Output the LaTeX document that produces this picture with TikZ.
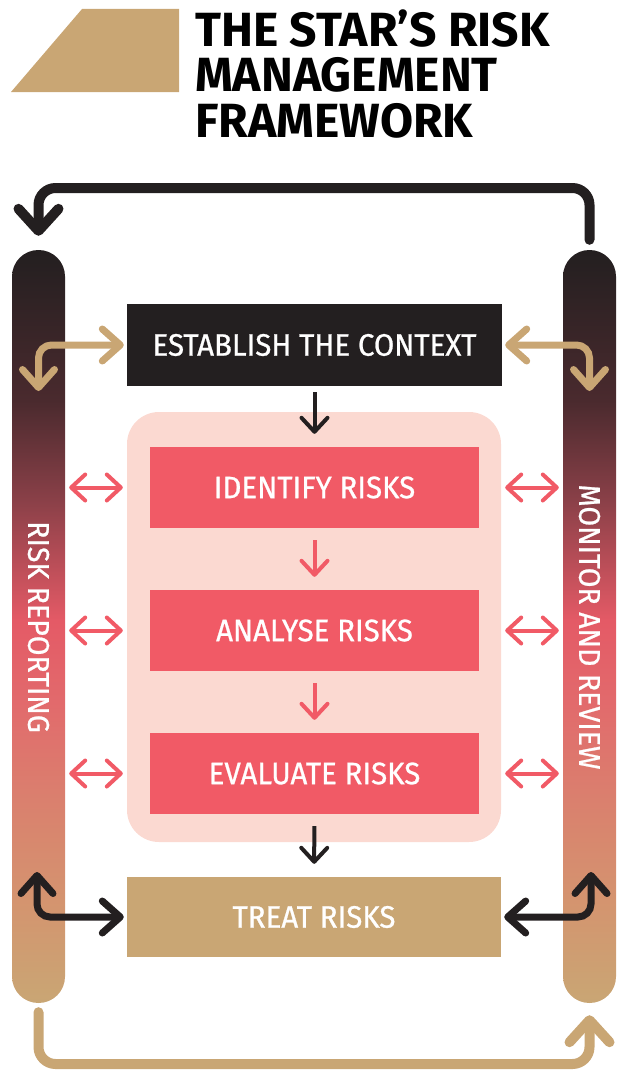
\documentclass[tikz,border=0pt]{standalone}
\usepackage{fontspec}
\setmainfont{Fira Sans}
\newfontfamily\titlefont{Fira Sans}
\newfontfamily\labelfont[FakeStretch=0.95,FakeBold=0.8]{Fira Sans}
\usetikzlibrary{arrows.meta}

\definecolor{inkblack}{HTML}{231F20}
\definecolor{sand}{HTML}{C9A674}
\definecolor{riskred}{HTML}{F15A66}
\definecolor{blush}{HTML}{FBD9D1}
\definecolor{fadeA}{HTML}{4A2A2E}
\definecolor{fadeB}{HTML}{8A4048}
\definecolor{fadeC}{HTML}{E45A66}
\definecolor{fadeD}{HTML}{E26A6C}
\definecolor{fadeE}{HTML}{DA806E}
\definecolor{fadeF}{HTML}{D4946F}

% dark at the top, sand at the bottom
\pgfdeclareverticalshading{barfade}{100bp}{%
  color(0bp)=(sand); color(25bp)=(sand); color(31.8bp)=(fadeF);
  color(38.5bp)=(fadeE); color(45bp)=(fadeD); color(50.4bp)=(fadeC);
  color(58.4bp)=(fadeB); color(65bp)=(fadeA); color(75bp)=(inkblack);
  color(100bp)=(inkblack)}

\tikzset{
  stagebox/.style={rectangle, inner sep=0pt, text=white,
    font=\labelfont\fontsize{31}{31}\selectfont},
  sidebar/.style={rectangle, rounded corners=26.4pt, minimum width=53pt,
    minimum height=753pt, inner sep=0pt, shading=barfade},
  barlabel/.style={text=white, rotate=-90, inner sep=0pt,
    font=\labelfont\fontsize{30}{30}\selectfont},
  flowarrow/.style={line width=4pt,
    -{Straight Barb[length=14pt,width=26pt,round]}},
  swaparrow/.style={line width=4pt, riskred,
    {Straight Barb[length=14pt,width=26pt,round]}-{Straight Barb[length=14pt,width=26pt,round]}},
  linkarrow/.style={line width=7pt, rounded corners=13pt,
    {Straight Barb[length=18pt,width=32pt,round]}-{Straight Barb[length=18pt,width=32pt,round]}},
  looparrow/.style={line width=10pt, rounded corners=17pt, line cap=round,
    -{Straight Barb[length=22pt,width=40pt,round]}},
  titleline/.style={anchor=base west, inner sep=0pt,
    font=\titlefont\bfseries\fontsize{48}{48}\selectfont}
}

\begin{document}
\begin{tikzpicture}[x=1pt,y=-1pt]
\useasboundingbox (0,0) rectangle (619,1073);

% title block
\fill[sand] (11,92) -- (82,9) -- (179,9) -- (179,92) -- cycle;
\node[titleline] (title1) at (195,47) {THE STAR’S RISK};
\node[titleline] (title2) at (195,92) {MANAGEMENT};
\node[titleline] (title3) at (195,137) {FRAMEWORK};

% side bars
\node[sidebar] (leftbar) at (38.5,626.5) {};
\node[sidebar] (rightbar) at (589.5,626.5) {};
\node[barlabel] (leftlabel) at (38.5,627) {RISK REPORTING};
\node[barlabel] (rightlabel) at (589.5,627) {MONITOR AND REVIEW};

% process boxes
\node[stagebox, fill=inkblack, minimum width=375pt, minimum height=82pt]
  (context) at (314.5,345) {ESTABLISH THE CONTEXT};
\node[rectangle, fill=blush, rounded corners=32pt, minimum width=374pt,
  minimum height=430pt] (assess) at (314,627) {};
\node[stagebox, fill=riskred, minimum width=329pt, minimum height=81pt]
  (identify) at (314.5,487.5) {IDENTIFY RISKS};
\node[stagebox, fill=riskred, minimum width=329pt, minimum height=81pt]
  (analyse) at (314.5,630.5) {ANALYSE RISKS};
\node[stagebox, fill=riskred, minimum width=329pt, minimum height=81pt]
  (evaluate) at (314.5,773.5) {EVALUATE RISKS};
\node[stagebox, fill=sand, minimum width=374pt, minimum height=80pt]
  (treat) at (314,917) {TREAT RISKS};

% downward flow
\draw[flowarrow, inkblack, shorten <=6pt, shorten >=13pt] (context) -- (identify);
\draw[flowarrow, riskred, shorten <=12pt, shorten >=13pt] (identify) -- (analyse);
\draw[flowarrow, riskred, shorten <=12pt, shorten >=13pt] (analyse) -- (evaluate);
\draw[flowarrow, inkblack, shorten <=12pt, shorten >=13pt] (evaluate) -- (treat);

% exchanges between the bars and the assessment steps
\foreach \s in {identify,analyse,evaluate}{
  \draw[swaparrow, shorten <=4pt, shorten >=4pt]
    (leftbar.east |- \s) -- (assess.west |- \s);
  \draw[swaparrow, shorten <=4pt, shorten >=4pt]
    (assess.east |- \s) -- (rightbar.west |- \s);
}

% links from context and treatment to the bars
\coordinate (ctxL) at (38.5,391);
\coordinate (ctxR) at (589.5,391);
\coordinate (trL) at (37,872);
\coordinate (trR) at (591,872);
\draw[linkarrow, sand, shorten <=3pt] (context.west) -- (leftbar.center |- context.west) -- (ctxL);
\draw[linkarrow, sand, shorten <=3pt] (context.east) -- (rightbar.center |- context.east) -- (ctxR);
\draw[linkarrow, inkblack, shorten <=3pt] (treat.west) -- (trL |- treat.west) -- (trL);
\draw[linkarrow, inkblack, shorten <=3pt] (treat.east) -- (trR |- treat.east) -- (trR);

% outer feedback loops
\coordinate (topline) at (314,188);
\coordinate (bottomline) at (314,1064);
\draw[looparrow, inkblack, shorten <=10pt, shorten >=14pt]
  (rightbar.north) -- (rightbar.north |- topline) -- (leftbar.north |- topline) -- (leftbar.north);
\draw[looparrow, sand, shorten <=9pt, shorten >=12pt]
  (leftbar.south) -- (leftbar.south |- bottomline) -- (rightbar.south |- bottomline) -- (rightbar.south);
\end{tikzpicture}
\end{document}
